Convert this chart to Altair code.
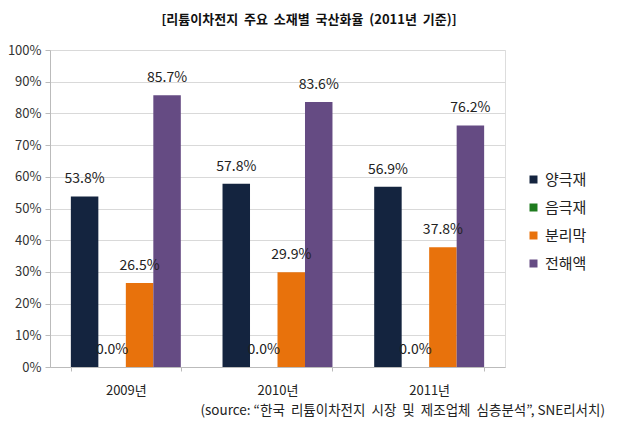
import altair as alt
import pandas as pd

years = ["2009년", "2010년", "2011년"]
materials = ["양극재", "음극재", "분리막", "전해액"]
colors = ["#14243f", "#1e7b1e", "#e8720c", "#654b83"]
values = {
    "양극재": [0.538, 0.578, 0.569],
    "음극재": [0.0, 0.0, 0.0],
    "분리막": [0.265, 0.299, 0.378],
    "전해액": [0.857, 0.836, 0.762],
}
S = "\u00a0\u00a0"
title_text = S.join(["[리튬이차전지", "주요", "소재별", "국산화율", "(2011년", "기준)]"])
source_text = "(source: \u201c" + S.join(["한국", "리튬이차전지", "시장", "및", "제조업체", "심층분석"]) + "\u201d, SNE리서치)"

rows = []
for m in materials:
    for y, v in zip(years, values[m]):
        rows.append({"year": y, "material": m, "value": v})
df = pd.DataFrame(rows)

FONT = "Noto Sans CJK KR"

x = alt.X("year:N", sort=years, title=None,
          scale=alt.Scale(paddingInner=0.275, paddingOuter=0.1375),
          axis=alt.Axis(labelAngle=0, labelFontSize=13, labelColor="#222", labelFont=FONT,
                        domainColor="#bbbbbb", tickColor="#bbbbbb", tickBand="extent",
                        tickSize=4, labelPadding=13))
xo = alt.XOffset("material:N", sort=materials, scale=alt.Scale(paddingInner=0.0))
yenc = alt.Y("value:Q", title=None,
             scale=alt.Scale(domain=[0, 1]),
             axis=alt.Axis(format=".0%", values=[i / 10 for i in range(11)],
                           labelFontSize=13, labelColor="#333", labelFont=FONT,
                           domainColor="#bbbbbb", tickColor="#bbbbbb", tickSize=5,
                           gridColor="#d9d9d9", labelPadding=4))

base = alt.Chart(df)
bars = base.mark_bar().encode(
    x=x, xOffset=xo, y=yenc,
    color=alt.Color("material:N", sort=materials,
                    scale=alt.Scale(domain=materials, range=colors),
                    legend=alt.Legend(title=None, orient="none", legendX=476, legendY=122,
                                      symbolType="square", symbolSize=64, rowPadding=12,
                                      labelFontSize=15, labelFont=FONT, labelColor="#222",
                                      symbolStrokeWidth=0)),
)
labels = base.mark_text(baseline="middle", dy=-17, fontSize=14, font=FONT, color="#222").encode(
    x=x, xOffset=xo, y=yenc,
    text=alt.Text("value:Q", format=".1%"),
)

tdf = pd.DataFrame({"t": [title_text]})
title = alt.Chart(tdf).mark_text(fontSize=13, fontWeight="bold", font=FONT, color="#111",
                                 align="center", baseline="middle").encode(
    x=alt.value(259), y=alt.value(-30), text="t:N")
sdf = pd.DataFrame({"t": [source_text]})
source = alt.Chart(sdf).mark_text(fontSize=13.5, font=FONT, color="#222",
                                  align="right", baseline="middle").encode(
    x=alt.value(555), y=alt.value(361), text="t:N")

chart = alt.layer(bars, labels, title, source).properties(
    width=455, height=317, autosize="none",
    padding={"left": 42, "top": 42, "right": 104, "bottom": 60},
).configure_view(stroke=None).configure(font=FONT)

chart.save("out.html", embed_options={"renderer": "svg", "actions": False})
